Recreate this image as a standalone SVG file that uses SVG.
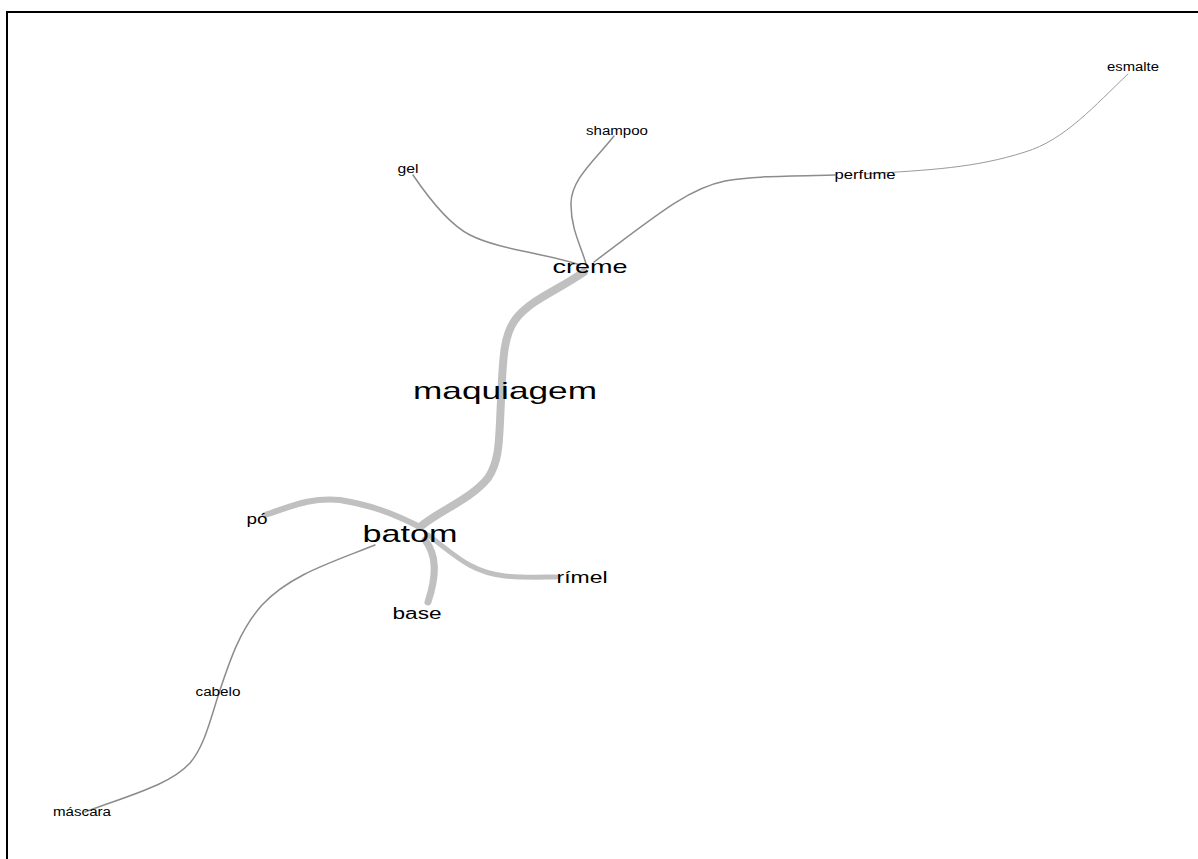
<svg xmlns="http://www.w3.org/2000/svg" width="1198" height="859" viewBox="0 0 1198 859">
<style>
.t{font-family:"Liberation Sans",Arial,sans-serif;fill:#000;text-anchor:middle}
.e{fill:none;stroke-linecap:round}
.thin{stroke:#8c8c8c;stroke-width:1.5}
.hair{stroke:#9a9a9a;stroke-width:1}
.thick{stroke:#c0c0c0}
</style>
<rect x="0" y="0" width="1198" height="859" fill="#fff"/>
<rect x="7" y="12" width="1200" height="860" fill="none" stroke="#000" stroke-width="2"/>
<g id="connectors">
<path class="e hair" d="M1128,74 C1095,105 1065,140 1025,152 C975,168 930,170 865,174"/>
<path class="e thin" d="M835,175 C790,176 750,176 725,181 C690,188 660,212 594,262"/>
<path class="e thin" d="M614,136 C595,160 570,180 571,205 C571,230 582,248 586,264"/>
<path class="e thin" d="M413,175 C430,200 450,225 470,235 C500,250 545,253 580,265"/>
<path class="e thick" stroke-width="8" d="M584,272 C555,292 530,300 515,320 C503,337 503,360 501,400 C499,440 500,460 488,478 C470,500 440,510 420,527"/>
<path class="e thick" stroke-width="6" d="M420,527 C390,512 370,505 340,500 C310,497 290,507 265,515"/>
<path class="e thick" stroke-width="7" d="M425,540 C437,555 437,575 428,602"/>
<path class="e thick" stroke-width="5" d="M428,535 C455,555 470,572 505,576 C525,578 545,577 556,577"/>
<path class="e thin" d="M375,545 C330,563 290,575 262,605 C240,630 230,660 220,690 C210,720 205,745 190,763 C170,785 130,795 85,812"/>
</g>
<g id="esmalte"><text class="t" x="1133" y="71" font-size="12" textLength="52" lengthAdjust="spacingAndGlyphs">esmalte</text></g>
<g id="shampoo"><text class="t" x="617" y="135" font-size="12" textLength="62" lengthAdjust="spacingAndGlyphs">shampoo</text></g>
<g id="gel"><text class="t" x="408" y="173" font-size="12" textLength="21" lengthAdjust="spacingAndGlyphs">gel</text></g>
<g id="perfume"><text class="t" x="865" y="179" font-size="13" textLength="61" lengthAdjust="spacingAndGlyphs">perfume</text></g>
<g id="creme"><text class="t" x="590" y="273" font-size="19" textLength="75" lengthAdjust="spacingAndGlyphs">creme</text></g>
<g id="maquiagem"><text class="t" x="505" y="399" font-size="24" textLength="184" lengthAdjust="spacingAndGlyphs">maquiagem</text></g>
<g id="batom"><text class="t" x="410" y="542" font-size="24" textLength="95" lengthAdjust="spacingAndGlyphs">batom</text></g>
<g id="po"><text class="t" x="257" y="524" font-size="14" textLength="21" lengthAdjust="spacingAndGlyphs">pó</text></g>
<g id="rimel"><text class="t" x="582" y="583" font-size="16" textLength="51" lengthAdjust="spacingAndGlyphs">rímel</text></g>
<g id="base"><text class="t" x="417" y="619" font-size="16" textLength="49" lengthAdjust="spacingAndGlyphs">base</text></g>
<g id="cabelo"><text class="t" x="218" y="696" font-size="12" textLength="45" lengthAdjust="spacingAndGlyphs">cabelo</text></g>
<g id="mascara"><text class="t" x="82" y="816" font-size="12" textLength="58" lengthAdjust="spacingAndGlyphs">máscara</text></g>
</svg>
